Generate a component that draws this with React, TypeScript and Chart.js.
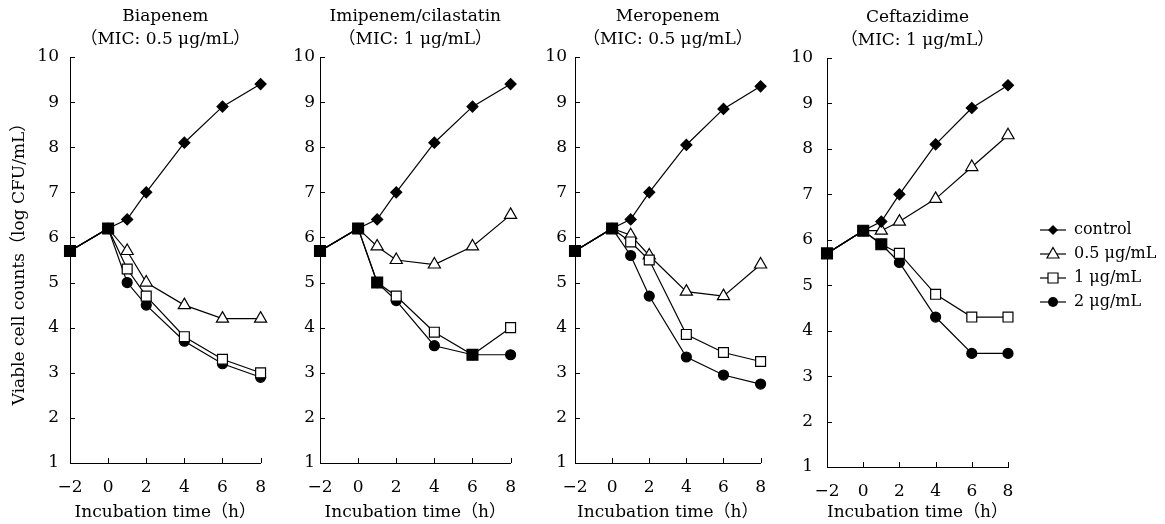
import { useEffect, useRef } from 'react';
import { Chart, registerables } from 'chart.js';

Chart.register(...registerables);

const FONT = "'DejaVu Serif', 'Noto Sans CJK JP', serif";

// ---------- data ----------
const times = [-2, 0, 1, 2, 4, 6, 8];
const xTickValues = [-2, 0, 2, 4, 6, 8];
const xTickLabels = ['−2', '0', '2', '4', '6', '8'];
const yTickValues = [1, 2, 3, 4, 5, 6, 7, 8, 9, 10];
const yTickLabels = ['1', '2', '3', '4', '5', '6', '7', '8', '9', '10'];

const seriesNames = ['control', '0.5 μg/mL', '1 μg/mL', '2 μg/mL'];
const drugNames = ['Biapenem', 'Imipenem/cilastatin', 'Meropenem', 'Ceftazidime'];
const micLabels = ['（MIC: 0.5 μg/mL）', '（MIC: 1 μg/mL）', '（MIC: 0.5 μg/mL）', '（MIC: 1 μg/mL）'];
const xAxisTitle = 'Incubation time（h）';
const yAxisTitle = 'Viable cell counts（log CFU/mL）';

const biapenemControl = [5.7, 6.2, 6.4, 7.0, 8.1, 8.9, 9.4];
const biapenem05 = [5.7, 6.2, 5.7, 5.0, 4.5, 4.2, 4.2];
const biapenem1 = [5.7, 6.2, 5.3, 4.7, 3.8, 3.3, 3.0];
const biapenem2 = [5.7, 6.2, 5.0, 4.5, 3.7, 3.2, 2.9];

const imipenemControl = [5.7, 6.2, 6.4, 7.0, 8.1, 8.9, 9.4];
const imipenem05 = [5.7, 6.2, 5.8, 5.5, 5.4, 5.8, 6.5];
const imipenem1 = [5.7, 6.2, 5.0, 4.7, 3.9, 3.4, 4.0];
const imipenem2 = [5.7, 6.2, 5.0, 4.6, 3.6, 3.4, 3.4];

const meropenemControl = [5.7, 6.2, 6.4, 7.0, 8.05, 8.85, 9.35];
const meropenem05 = [5.7, 6.2, 6.05, 5.6, 4.8, 4.7, 5.4];
const meropenem1 = [5.7, 6.2, 5.9, 5.5, 3.85, 3.45, 3.25];
const meropenem2 = [5.7, 6.2, 5.6, 4.7, 3.35, 2.95, 2.75];

const ceftazidimeControl = [5.7, 6.2, 6.4, 7.0, 8.1, 8.9, 9.4];
const ceftazidime05 = [5.7, 6.2, 6.2, 6.4, 6.9, 7.6, 8.3];
const ceftazidime1 = [5.7, 6.2, 5.9, 5.7, 4.8, 4.3, 4.3];
const ceftazidime2 = [5.7, 6.2, 5.9, 5.5, 4.3, 3.5, 3.5];

const panelSeries = [
  [biapenemControl, biapenem05, biapenem1, biapenem2],
  [imipenemControl, imipenem05, imipenem1, imipenem2],
  [meropenemControl, meropenem05, meropenem1, meropenem2],
  [ceftazidimeControl, ceftazidime05, ceftazidime1, ceftazidime2],
];

// ---------- layout (styling only) ----------
const panelLayout = [
  { left: 0, width: 280, yW: 70, padRight: 17, tickPad: 11, titleTop: 6, titleBottom: 6.8, xH: 61 },
  { left: 280, width: 250, yW: 40, padRight: 16, tickPad: 5, titleTop: 6, titleBottom: 6.8, xH: 61 },
  { left: 530, width: 250, yW: 45, padRight: 13, tickPad: 8, titleTop: 6, titleBottom: 6.8, xH: 61 },
  { left: 780, width: 385, yW: 47, padRight: 0, tickPad: 14, titleTop: 7, titleBottom: 6.8, xH: 57 },
];

const inwardTicks = {
  id: 'inwardTicks',
  beforeDatasetsDraw(chart: any) {
    const { ctx, chartArea, scales } = chart;
    const xs = scales.x;
    const ys = scales.y;
    ctx.save();
    ctx.strokeStyle = '#000';
    ctx.lineWidth = 1;
    ctx.beginPath();
    xs.ticks.forEach((t: any) => {
      if (t.value === xs.min) return;
      const px = Math.round(xs.getPixelForValue(t.value)) + 0.5;
      ctx.moveTo(px, chartArea.bottom);
      ctx.lineTo(px, chartArea.bottom - 5);
    });
    ys.ticks.forEach((t: any) => {
      if (t.value === ys.min) return;
      const py = Math.round(ys.getPixelForValue(t.value)) + 0.5;
      ctx.moveTo(chartArea.left, py);
      ctx.lineTo(chartArea.left + 5, py);
    });
    ctx.stroke();
    ctx.restore();
  },
};

function makeIcon(kind: number): HTMLCanvasElement {
  const c = document.createElement('canvas');
  c.width = 50;
  c.height = 16;
  const ctx = c.getContext('2d')!;
  const cx = 37;
  const cy = 8;
  ctx.strokeStyle = '#000';
  ctx.lineWidth = 1.2;
  ctx.beginPath();
  ctx.moveTo(24, cy);
  ctx.lineTo(50, cy);
  ctx.stroke();
  ctx.beginPath();
  if (kind === 0) {
    ctx.moveTo(cx, cy - 5);
    ctx.lineTo(cx + 5, cy);
    ctx.lineTo(cx, cy + 5);
    ctx.lineTo(cx - 5, cy);
    ctx.closePath();
    ctx.fillStyle = '#000';
    ctx.fill();
  } else if (kind === 1) {
    ctx.moveTo(cx, cy - 6.5);
    ctx.lineTo(cx + 6, cy + 4);
    ctx.lineTo(cx - 6, cy + 4);
    ctx.closePath();
    ctx.fillStyle = '#fff';
    ctx.fill();
    ctx.stroke();
  } else if (kind === 2) {
    ctx.rect(cx - 5, cy - 5, 10, 10);
    ctx.fillStyle = '#fff';
    ctx.fill();
    ctx.stroke();
  } else {
    ctx.arc(cx, cy, 5, 0, Math.PI * 2);
    ctx.fillStyle = '#000';
    ctx.fill();
  }
  return c;
}

function makeDatasets(values: number[][]) {
  const [c, a, b, d] = values;
  const shared = b.map((v, i) => v === d[i]);
  const pts = (arr: number[]) => times.map((t, i) => ({ x: t, y: arr[i] }));
  const base = {
    borderColor: '#000',
    borderWidth: 1.2,
    pointBorderColor: '#000',
    pointBorderWidth: 1.2,
    fill: false,
    tension: 0,
    clip: false,
  };
  return [
    {
      ...base,
      label: seriesNames[0],
      data: pts(c),
      pointStyle: 'rectRot',
      pointRadius: c.map((v, i) => (v === b[i] && shared[i] ? 0 : 5.5)),
      pointBackgroundColor: '#000',
      order: 1,
    },
    {
      ...base,
      label: seriesNames[1],
      data: pts(a),
      pointStyle: 'triangle',
      pointRadius: a.map((v, i) => (v === b[i] ? 0 : 7)),
      pointBackgroundColor: '#fff',
      order: 1,
    },
    {
      ...base,
      label: seriesNames[2],
      data: pts(b),
      pointStyle: 'rect',
      pointRadius: b.map((v, i) => (shared[i] ? 7.7 : 7)),
      pointBackgroundColor: b.map((v, i) => (shared[i] ? '#000' : '#fff')),
      order: 0,
    },
    {
      ...base,
      label: seriesNames[3],
      data: pts(d),
      pointStyle: 'circle',
      pointRadius: 5,
      pointBackgroundColor: '#000',
      order: 1,
    },
  ];
}

function Panel({ index }: { index: number }) {
  const ref = useRef<HTMLCanvasElement | null>(null);
  const L = panelLayout[index];
  useEffect(() => {
    const canvas = ref.current!;
    const showLegend = index === 3;
    const icons = showLegend ? [0, 1, 2, 3].map(makeIcon) : [];
    const chart = new Chart(canvas, {
      type: 'line',
      data: { datasets: makeDatasets(panelSeries[index]) as any },
      plugins: [inwardTicks],
      options: {
        responsive: false,
        animation: false,
        events: [],
        layout: { padding: { left: 0, right: L.padRight, top: 0, bottom: 0 } },
        plugins: {
          tooltip: { enabled: false },
          title: {
            display: true,
            fullSize: false,
            text: [drugNames[index], micLabels[index]],
            color: '#000',
            font: { family: FONT, size: 17, weight: 'normal', lineHeight: 1.3 },
            padding: { top: L.titleTop, bottom: L.titleBottom },
          },
          legend: {
            display: showLegend,
            position: 'right',
            align: 'center',
            maxWidth: 157,
            title: {
              display: true,
              text: ' ',
              font: { family: FONT, size: 6, lineHeight: 1 },
              padding: 1,
            },
            labels: {
              usePointStyle: true,
              pointStyleWidth: 50,
              boxHeight: 16,
              padding: 8,
              color: '#000',
              font: { family: FONT, size: 16 },
              generateLabels: () =>
                seriesNames.map((n, i) => ({
                  text: n,
                  pointStyle: icons[i],
                  fillStyle: 'rgba(0,0,0,0)',
                  strokeStyle: 'rgba(0,0,0,0)',
                  lineWidth: 0,
                  hidden: false,
                  datasetIndex: i,
                  fontColor: '#000',
                })),
            },
          },
        },
        scales: {
          x: {
            type: 'linear',
            min: -2,
            max: 8,
            afterBuildTicks: (s: any) => {
              s.ticks = xTickValues.map((v) => ({ value: v }));
            },
            afterFit: (s: any) => {
              s.height = L.xH;
            },
            grid: { display: false, drawTicks: false },
            border: { display: true, color: '#000', width: 1 },
            ticks: {
              color: '#000',
              font: { family: FONT, size: 17 },
              padding: 14,
              maxRotation: 0,
              autoSkip: false,
              callback: (v: any) => xTickLabels[xTickValues.indexOf(Number(v))],
            },
            title: {
              display: true,
              text: xAxisTitle,
              color: '#000',
              font: { family: FONT, size: 17 },
              padding: { top: 0, bottom: 1 },
            },
          },
          y: {
            type: 'linear',
            min: 1,
            max: 10,
            afterBuildTicks: (s: any) => {
              s.ticks = yTickValues.map((v) => ({ value: v }));
            },
            afterFit: (s: any) => {
              s.width = L.yW;
            },
            grid: { display: false, drawTicks: false },
            border: { display: true, color: '#000', width: 1 },
            ticks: {
              color: '#000',
              font: { family: FONT, size: 17 },
              padding: L.tickPad,
              autoSkip: false,
              callback: (v: any) => yTickLabels[yTickValues.indexOf(Number(v))],
            },
            title: {
              display: index === 0,
              text: yAxisTitle,
              color: '#000',
              font: { family: FONT, size: 17 },
              padding: { top: 9, bottom: 0 },
            },
          },
        },
      } as any,
    });
    return () => chart.destroy();
  }, [index]);
  return (
    <div style={{ position: 'absolute', left: L.left, top: 0, width: L.width, height: 524 }}>
      <canvas ref={ref} width={L.width} height={524} style={{ display: 'block' }} />
    </div>
  );
}

export default function App() {
  return (
    <div style={{ position: 'absolute', left: 0, top: 0, width: 1165, height: 524, background: '#fff' }}>
      {[0, 1, 2, 3].map((i) => (
        <Panel key={i} index={i} />
      ))}
    </div>
  );
}
